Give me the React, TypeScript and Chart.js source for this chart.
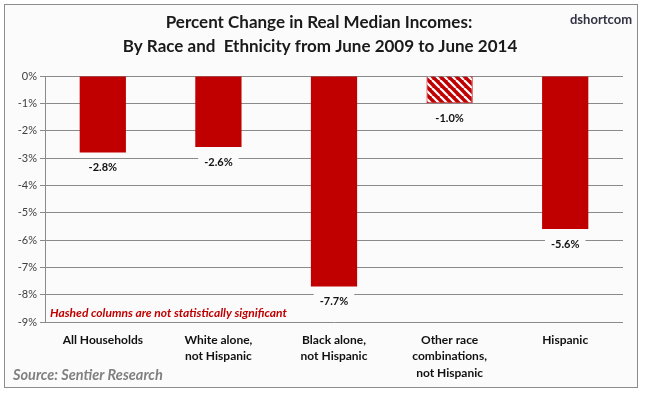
import React, { useEffect, useRef } from "react";
import { Chart, registerables } from "chart.js";
Chart.register(...registerables);

const categories: string[][] = [
  ["All Households"],
  ["White alone,", "not Hispanic"],
  ["Black alone,", "not Hispanic"],
  ["Other race", "combinations,", "not Hispanic"],
  ["Hispanic"],
];
const values = [-2.8, -2.6, -7.7, -1.0, -5.6];
const hashed = [false, false, false, true, false];
const yTicks = [0, -1, -2, -3, -4, -5, -6, -7, -8, -9];
const titleLines = ["Percent Change in Real Median Incomes:", "By Race and  Ethnicity from June 2009 to June 2014"];
const noteText = "Hashed columns are not statistically significant";
const sourceText = "Source: Sentier Research";
const brandText = "dshortcom";

const RED = "#C00000";
const FONT = "Lato, 'Open Sans', sans-serif";

function makePattern(): CanvasPattern | string {
  const s = 8;
  const c = document.createElement("canvas");
  c.width = s;
  c.height = s;
  const g = c.getContext("2d");
  if (!g) return RED;
  g.fillStyle = RED;
  g.fillRect(0, 0, s, s);
  g.strokeStyle = "#ffffff";
  g.lineWidth = 2.2;
  for (const x0 of [-s, 0, s]) {
    g.beginPath();
    g.moveTo(x0, 0);
    g.lineTo(x0 + s, s);
    g.stroke();
  }
  const p = g.createPattern(c, "repeat");
  return p || RED;
}

const decorPlugin = {
  id: "decor",
  beforeDraw(chart: any) {
    const ctx = chart.ctx;
    ctx.save();
    ctx.fillStyle = "#ffffff";
    ctx.fillRect(0, 0, chart.width, chart.height);
    ctx.fillStyle = "#fbfbfb";
    ctx.fillRect(4.5, 4.5, 633, 383);
    ctx.strokeStyle = "#8c8c8c";
    ctx.lineWidth = 1;
    ctx.strokeRect(4.5, 4.5, 633, 383);
    ctx.restore();
  },
  afterDraw(chart: any) {
    const ctx = chart.ctx;
    const xs = chart.scales.x;
    const ys = chart.scales.y;
    ctx.save();
    // title
    ctx.fillStyle = "#1a1a1a";
    ctx.textAlign = "center";
    ctx.textBaseline = "middle";
    ctx.font = `bold 17px ${FONT}`;
    ctx.fillText(titleLines[0], 319, 23);
    ctx.fillText(titleLines[1], 320, 47);
    // brand
    ctx.font = `bold 13px ${FONT}`;
    ctx.fillStyle = "#333344";
    ctx.fillText(brandText, 601, 20);
    // data labels
    ctx.font = `bold 11px ${FONT}`;
    values.forEach((v, i) => {
      const x = xs.getPixelForValue(i);
      const y = ys.getPixelForValue(v) + 15;
      const t = v.toFixed(1) + "%";
      const w = ctx.measureText(t).width + 12;
      ctx.fillStyle = "#fbfbfb";
      ctx.fillRect(x - w / 2, y - 8, w, 16);
      ctx.fillStyle = "#111111";
      ctx.fillText(t, x, y);
    });
    // category labels
    ctx.font = `bold 12px ${FONT}`;
    ctx.fillStyle = "#111111";
    categories.forEach((lines, i) => {
      const x = xs.getPixelForValue(i);
      lines.forEach((ln, j) => {
        ctx.fillText(ln, x, chart.chartArea.bottom + 18 + j * 16.5);
      });
    });
    // note
    ctx.textAlign = "left";
    ctx.font = `italic bold 12px ${FONT}`;
    ctx.fillStyle = RED;
    ctx.fillText(noteText, 50, 313);
    // source
    ctx.font = `italic bold 14.5px ${FONT}`;
    ctx.fillStyle = "#808080";
    ctx.fillText(sourceText, 13, 375);
    ctx.restore();
  },
};

export default function App() {
  const ref = useRef<HTMLCanvasElement>(null);
  useEffect(() => {
    if (!ref.current) return;
    const pattern = makePattern();
    const chart = new Chart(ref.current, {
      type: "bar",
      data: {
        labels: categories.map((c) => c.join(" ")),
        datasets: [
          {
            data: values,
            backgroundColor: values.map((_, i) => (hashed[i] ? pattern : RED)) as any,
            borderColor: RED,
            borderWidth: values.map((_, i) => (hashed[i] ? 1 : 0)),
            barPercentage: 0.4,
            categoryPercentage: 1,
          },
        ],
      },
      options: {
        animation: false,
        responsive: false,
        maintainAspectRatio: false,
        layout: { padding: { left: 0, top: 76, right: 22, bottom: 0 } },
        plugins: { legend: { display: false }, tooltip: { enabled: false }, title: { display: false } },
        scales: {
          x: {
            grid: { display: false, drawTicks: false },
            border: { display: false },
            ticks: { display: false },
            afterFit(scale: any) {
              scale.height = 72;
            },
          },
          y: {
            min: -9,
            max: 0,
            afterBuildTicks(scale: any) {
              scale.ticks = yTicks.map((v) => ({ value: v }));
            },
            grid: { color: "#8a8a8a", lineWidth: 1, tickLength: 5 },
            border: { display: true, color: "#8a8a8a" },
            ticks: {
              color: "#404040",
              font: { family: FONT, size: 11 },
              padding: 3,
              callback: (v: any) => `${v}%`,
            },
            afterFit(scale: any) {
              scale.width = 45;
            },
          },
        },
      },
      plugins: [decorPlugin],
    });
    return () => chart.destroy();
  }, []);
  return (
    <div style={{ position: "absolute", left: 0, top: 0, width: 645, height: 394 }}>
      <canvas ref={ref} width={645} height={394} style={{ width: 645, height: 394 }} />
    </div>
  );
}
